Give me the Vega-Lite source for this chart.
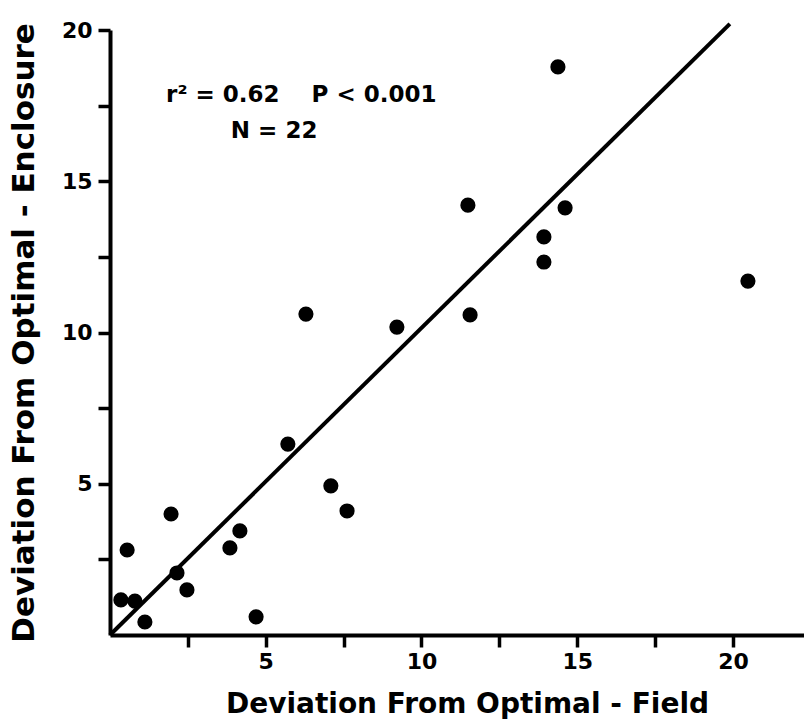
{
  "$schema": "https://vega.github.io/schema/vega-lite/v6.json",
  "autosize": "none",
  "width": 694,
  "height": 605,
  "padding": {"left": 110, "top": 30, "right": 0, "bottom": 87},
  "background": "white",
  "config": {
    "view": {"stroke": null},
    "font": "DejaVu Sans",
    "axis": {
      "grid": false,
      "domainColor": "black",
      "domainWidth": 4,
      "tickColor": "black",
      "tickWidth": 3.5,
      "tickSize": 12,
      "labelFont": "DejaVu Sans",
      "labelFontWeight": "bold",
      "labelFontSize": 22,
      "labelColor": "black",
      "titleFont": "DejaVu Sans",
      "titleFontWeight": "bold",
      "titleColor": "black"
    }
  },
  "layer": [
    {
      "data": {"values": [
        {"field": 0.35, "enclosure": 1.16},
        {"field": 0.80, "enclosure": 1.12},
        {"field": 1.12, "enclosure": 0.43},
        {"field": 0.55, "enclosure": 2.81},
        {"field": 1.96, "enclosure": 4.00},
        {"field": 2.15, "enclosure": 2.05},
        {"field": 2.47, "enclosure": 1.49},
        {"field": 3.85, "enclosure": 2.88},
        {"field": 4.17, "enclosure": 3.44},
        {"field": 4.69, "enclosure": 0.60},
        {"field": 7.09, "enclosure": 4.93},
        {"field": 7.61, "enclosure": 4.10},
        {"field": 5.71, "enclosure": 6.31},
        {"field": 6.29, "enclosure": 10.61},
        {"field": 9.21, "enclosure": 10.18},
        {"field": 11.49, "enclosure": 14.21},
        {"field": 11.56, "enclosure": 10.58},
        {"field": 13.93, "enclosure": 13.16},
        {"field": 13.93, "enclosure": 12.33},
        {"field": 14.61, "enclosure": 14.12},
        {"field": 14.38, "enclosure": 18.78},
        {"field": 20.48, "enclosure": 11.70}
      ]},
      "mark": {"type": "point", "filled": true, "color": "black", "opacity": 1, "size": 230},
      "encoding": {
        "x": {
          "field": "field", "type": "quantitative",
          "scale": {"domain": [0, 22.28], "nice": false, "zero": true},
          "axis": {
            "title": "Deviation From Optimal - Field",
            "titleFontSize": 28,
            "titleX": 357,
            "titleAlign": "center",
            "values": [2.5, 5, 7.5, 10, 12.5, 15, 17.5, 20],
            "labelExpr": "datum.value % 5 == 0 ? datum.label : ''",
            "labelPadding": 4,
            "titlePadding": 18
          }
        },
        "y": {
          "field": "enclosure", "type": "quantitative",
          "scale": {"domain": [0, 20], "nice": false},
          "axis": {
            "title": "Deviation From Optimal - Enclosure",
            "titleFontSize": 31,
            "titleX": -70,
            "values": [2.5, 5, 7.5, 10, 12.5, 15, 17.5, 20],
            "labelExpr": "datum.value % 5 == 0 ? datum.label : ''",
            "labelPadding": 6,
            "titlePadding": 6
          }
        }
      }
    },
    {
      "data": {"values": [
        {"field": 0, "enclosure": 0},
        {"field": 19.9, "enclosure": 20.2}
      ]},
      "mark": {"type": "line", "color": "black", "strokeWidth": 4, "clip": false},
      "encoding": {
        "x": {"field": "field", "type": "quantitative"},
        "y": {"field": "enclosure", "type": "quantitative"}
      }
    },
    {
      "data": {"values": [
        {"label": "r² = 0.62\u00a0\u00a0\u00a0\u00a0P < 0.001", "field": 1.8, "enclosure": 17.85},
        {"label": "N = 22", "field": 3.88, "enclosure": 16.66}
      ]},
      "mark": {"type": "text", "align": "left", "baseline": "middle", "fontSize": 23, "fontWeight": "bold", "font": "DejaVu Sans", "color": "black"},
      "encoding": {
        "x": {"field": "field", "type": "quantitative"},
        "y": {"field": "enclosure", "type": "quantitative"},
        "text": {"field": "label"}
      }
    }
  ]
}
